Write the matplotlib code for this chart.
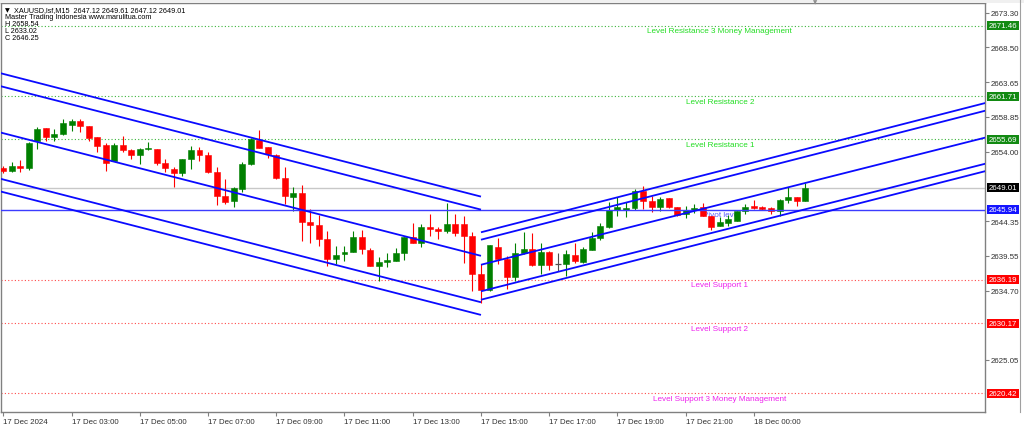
import matplotlib
matplotlib.use("Agg")
import matplotlib.pyplot as plt
from matplotlib import font_manager
from matplotlib.transforms import blended_transform_factory
from matplotlib.patches import Rectangle
from matplotlib.lines import Line2D

# ---------------- data ----------------
opens = [2651.72, 2651.35, 2652.04, 2651.72, 2655.43, 2657.28, 2656.07, 2656.45, 2657.74, 2658.21,
         2657.56, 2655.99, 2654.96, 2652.74, 2654.96, 2654.22, 2653.53, 2654.32, 2654.36, 2652.42,
         2651.58, 2651.03, 2652.93, 2654.22, 2653.57, 2651.21, 2647.83, 2647.09, 2648.80, 2652.28,
         2655.65, 2654.60, 2653.53, 2650.33, 2647.73, 2648.25, 2644.22, 2643.84, 2641.90, 2639.04,
         2639.77, 2640.01, 2642.09, 2640.37, 2638.06, 2638.62, 2638.84, 2639.87, 2642.09, 2641.30,
         2643.48, 2643.25, 2642.93, 2643.94, 2643.94, 2642.31, 2636.99, 2634.81, 2640.79, 2639.08,
         2636.62, 2639.87, 2640.47, 2638.28, 2640.01, 2638.38, 2638.38, 2639.67, 2638.62, 2640.37,
         2641.95, 2643.48, 2645.93, 2645.93, 2646.12, 2648.57, 2647.18, 2646.26, 2647.51, 2646.26,
         2645.33, 2645.93, 2646.26, 2645.01, 2643.62, 2644.08, 2644.40, 2645.70, 2646.40, 2646.26,
         2646.12, 2645.79, 2647.32, 2647.65, 2647.12]
highs = [2651.99, 2652.55, 2652.87, 2655.33, 2657.42, 2657.28, 2657.14, 2658.57, 2658.53, 2658.54,
         2657.56, 2655.99, 2655.24, 2655.15, 2656.17, 2654.36, 2654.46, 2655.29, 2654.36, 2652.97,
         2651.82, 2652.93, 2654.78, 2654.60, 2653.90, 2651.82, 2650.19, 2649.04, 2652.51, 2655.89,
         2657.00, 2654.68, 2653.67, 2651.90, 2649.12, 2649.40, 2646.02, 2645.23, 2643.01, 2640.92,
         2640.92, 2643.01, 2643.11, 2640.61, 2639.31, 2639.87, 2640.61, 2642.18, 2644.04, 2643.94,
         2645.33, 2643.48, 2646.82, 2645.33, 2645.09, 2642.79, 2638.38, 2641.02, 2641.95, 2639.54,
         2641.26, 2642.79, 2642.65, 2641.26, 2640.23, 2639.91, 2640.33, 2641.26, 2640.79, 2642.79,
         2644.04, 2646.95, 2647.65, 2646.95, 2648.80, 2649.18, 2647.78, 2647.65, 2647.51, 2646.26,
         2646.48, 2646.72, 2646.86, 2645.09, 2644.87, 2645.19, 2645.79, 2646.72, 2647.32, 2646.44,
         2646.26, 2647.41, 2649.04, 2647.65, 2649.61]
lows = [2651.03, 2651.17, 2651.17, 2651.44, 2654.36, 2655.51, 2655.47, 2656.35, 2656.90, 2656.76,
        2655.51, 2653.90, 2651.26, 2652.74, 2653.90, 2652.97, 2652.28, 2654.22, 2652.18, 2651.12,
        2649.12, 2650.65, 2651.54, 2652.74, 2650.98, 2646.62, 2646.72, 2646.34, 2648.34, 2652.14,
        2654.46, 2653.07, 2650.19, 2646.72, 2645.70, 2641.54, 2641.30, 2640.92, 2638.14, 2638.38,
        2638.84, 2640.01, 2639.77, 2638.06, 2636.06, 2637.92, 2638.84, 2638.94, 2641.30, 2640.70,
        2642.22, 2641.86, 2642.65, 2642.22, 2638.48, 2634.67, 2633.02, 2634.67, 2638.38, 2634.91,
        2636.06, 2639.77, 2638.14, 2636.99, 2637.55, 2637.37, 2636.66, 2638.48, 2638.48, 2640.37,
        2641.72, 2643.39, 2645.09, 2644.87, 2645.93, 2646.02, 2645.65, 2645.79, 2646.16, 2645.09,
        2644.73, 2645.43, 2645.01, 2643.11, 2643.62, 2643.70, 2644.40, 2645.33, 2646.02, 2645.88,
        2645.33, 2645.09, 2646.86, 2646.48, 2647.12]
closes = [2651.30, 2652.04, 2651.72, 2655.15, 2657.18, 2656.07, 2656.45, 2657.97, 2658.21, 2657.60,
          2655.89, 2654.82, 2652.46, 2654.96, 2654.22, 2653.49, 2654.32, 2654.40, 2652.42, 2651.68,
          2651.03, 2652.93, 2654.22, 2653.57, 2651.12, 2647.83, 2647.04, 2648.90, 2652.28, 2655.75,
          2654.46, 2653.67, 2650.33, 2647.83, 2648.25, 2644.26, 2643.84, 2641.86, 2639.08, 2639.67,
          2640.09, 2642.09, 2640.47, 2638.06, 2638.66, 2638.98, 2639.87, 2642.09, 2641.30, 2643.48,
          2643.25, 2642.93, 2643.94, 2642.69, 2642.23, 2636.99, 2634.77, 2641.02, 2639.08, 2636.62,
          2639.87, 2640.47, 2638.28, 2640.01, 2638.28, 2638.38, 2639.77, 2638.76, 2640.47, 2641.95,
          2643.62, 2645.93, 2646.26, 2646.12, 2648.57, 2647.18, 2646.26, 2647.41, 2646.26, 2645.19,
          2645.93, 2646.12, 2645.09, 2643.48, 2644.18, 2644.64, 2645.79, 2646.26, 2646.21, 2646.07,
          2645.79, 2647.32, 2647.65, 2647.09, 2649.01]

time_tick_bars = [0, 8, 16, 24, 32, 40, 48, 56, 64, 72, 80, 88]
time_tick_labels = ['17 Dec 2024', '17 Dec 03:00', '17 Dec 05:00', '17 Dec 07:00', '17 Dec 09:00',
                    '17 Dec 11:00', '17 Dec 13:00', '17 Dec 15:00', '17 Dec 17:00', '17 Dec 19:00',
                    '17 Dec 21:00', '18 Dec 00:00']
price_ticks = [2673.30, 2668.50, 2663.65, 2658.85, 2654.00, 2644.35, 2639.55, 2634.70, 2625.05]

resistance_levels = [2671.46, 2661.71, 2655.69]
resistance_names = ['Level Resistance 3 Money Management', 'Level Resistance 2', 'Level Resistance 1']
support_levels = [2636.19, 2630.17, 2620.42]
support_names = ['Level Support 1', 'Level Support 2', 'Level Support 3 Money Management']
pivot_level = 2645.94
last_price = 2649.01

chan_down_bars = [-1, 56]
chan_down_start = [2665.10, 2663.30, 2656.86, 2650.43, 2648.67]
chan_down_end = [2647.75, 2645.94, 2639.52, 2633.07, 2631.31]
chan_up_bars = [56, 116]
chan_up_start = [2642.79, 2641.76, 2638.28, 2634.59, 2633.42]
chan_up_end = [2661.02, 2659.95, 2656.21, 2652.58, 2651.55]

header_lines = ['XAUUSD,lsf,M15  2647.12 2649.61 2647.12 2649.01',
                'Master Trading Indonesia www.marulitua.com',
                'H 2658.54', 'L 2633.02', 'C 2646.25']

# ---------------- fonts ----------------
plt.rcParams['font.family'] = ['Liberation Sans', 'DejaVu Sans']
FS_AX = 5.7
FS_LV = 5.9
FS_HD = 5.2

W, H = 1024, 427
fig = plt.figure(figsize=(W / 100, H / 100), dpi=100)
fig.patch.set_facecolor('white')

def fx(x):
    return x / W

def fy(y):
    return 1 - y / H

ax = fig.add_axes([fx(1), fy(413), (985 - 1) / W, (413 - 4) / H])
ax.set_facecolor('white')
ax.set_xlim(-0.27, 115.09)
ax.set_ylim(2617.82, 2674.65)
price_per_px = (2674.65 - 2617.82) / 409.0

for s in ax.spines.values():
    s.set_color('#808080')
    s.set_linewidth(1.0)

# level lines
for lv, nm in zip(resistance_levels, resistance_names):
    ax.axhline(lv, color='#3cb43c', lw=0.8, ls=(0, (1, 2)), zorder=1)
    ax.annotate(nm, xy=(84, lv), xytext=(0, -1.0), textcoords='offset points',
                ha='center', va='top', fontsize=FS_LV, color='#22dd22', zorder=2)
for lv, nm in zip(support_levels, support_names):
    ax.axhline(lv, color='#ff4a4a', lw=0.8, ls=(0, (1, 2)), zorder=1)
    ax.annotate(nm, xy=(84, lv), xytext=(0, -1.0), textcoords='offset points',
                ha='center', va='top', fontsize=FS_LV, color='#ee22ee', zorder=2)

ax.axhline(last_price, color='#c8c8c8', lw=1.0, zorder=1)
ax.annotate('Pivot level', xy=(82, pivot_level), xytext=(0, -1.0), textcoords='offset points',
            ha='left', va='top', fontsize=FS_LV, color='#5a5aff', zorder=1.5)

# candles
n = len(opens)
bw = 0.7
for i in range(n):
    o, h, l, c = opens[i], highs[i], lows[i], closes[i]
    if c > o:
        col = '#008000'
    elif c < o:
        col = '#ff0000'
    else:
        col = '#505050'
    ax.vlines(i, l, h, color=col, lw=0.8, zorder=3)
    if c == o:
        ax.hlines(o, i - bw / 2, i + bw / 2, color=col, lw=0.9, zorder=3)
    else:
        bot = min(o, c)
        ht = max(abs(c - o), 0.12)
        ax.bar(i, ht, bottom=bot, width=bw, color=col, edgecolor=col, lw=0.4, zorder=3)

ax.axhline(pivot_level, color='#3c3cff', lw=1.0, zorder=4)

# channels
for a, b in zip(chan_down_start, chan_down_end):
    ax.plot(chan_down_bars, [a, b], color='#0a0aff', lw=1.3, zorder=5, solid_capstyle='butt')
for a, b in zip(chan_up_start, chan_up_end):
    ax.plot(chan_up_bars, [a, b], color='#0a0aff', lw=1.3, zorder=5, solid_capstyle='butt')

# axes ticks
ax.yaxis.tick_right()
ax.set_yticks(price_ticks)
ax.set_yticklabels([f'{p:.2f}' for p in price_ticks])
ax.tick_params(axis='y', length=3, width=0.8, color='#808080', labelsize=FS_AX, pad=1.2,
               labelcolor='#303030')
ax.set_xticks(time_tick_bars)
ax.set_xticklabels(time_tick_labels, ha='left')
ax.tick_params(axis='x', length=3, width=0.8, color='#808080', labelsize=FS_AX, pad=1.5,
               labelcolor='#303030')

# colored price boxes on the right axis
tr = blended_transform_factory(ax.transAxes, ax.transData)
axw = 984.0
boxes = [(resistance_levels[0], '#128a12'), (resistance_levels[1], '#128a12'),
         (resistance_levels[2], '#128a12'), (last_price, '#000000'),
         (pivot_level, '#1414ff'), (support_levels[0], '#ff0000'),
         (support_levels[1], '#ff0000'), (support_levels[2], '#ff0000')]
box_h = 9 * price_per_px
for lv, colr in boxes:
    r = Rectangle((1 + 1.5 / axw, lv - box_h / 2), 33 / axw, box_h, transform=tr,
                  fc=colr, ec='none', clip_on=False, zorder=6)
    ax.add_patch(r)
    ax.text(1 + 4 / axw, lv, f'{lv:.2f}', transform=tr, ha='left', va='center',
            fontsize=FS_AX, color='white', clip_on=False, zorder=7)

# header texts
fig.text(fx(5), fy(10.5), '▼', fontsize=4.5, color='black', va='center', ha='left',
         family=['DejaVu Sans'])
fig.text(fx(14), fy(10.5), header_lines[0], fontsize=FS_HD, color='black', va='center', ha='left')
for k, txt in enumerate(header_lines[1:]):
    fig.text(fx(5), fy(17.5 + 7.0 * k), txt, fontsize=FS_HD, color='black', va='center', ha='left')

# window chrome
fig.patches.append(Rectangle((0, fy(4)), 1, 1 - fy(4), transform=fig.transFigure,
                             fc='#f0f0f0', ec='none', zorder=0))
fig.lines.append(Line2D([fx(1020), fx(1020)], [fy(413), 1], transform=fig.transFigure,
                        color='#a0a0a0', lw=0.8))
fig.text(fx(815), fy(3), '▼', fontsize=4, color='#909090', ha='center', va='center',
         family=['DejaVu Sans'])

fig.savefig('out.png', dpi=100)
